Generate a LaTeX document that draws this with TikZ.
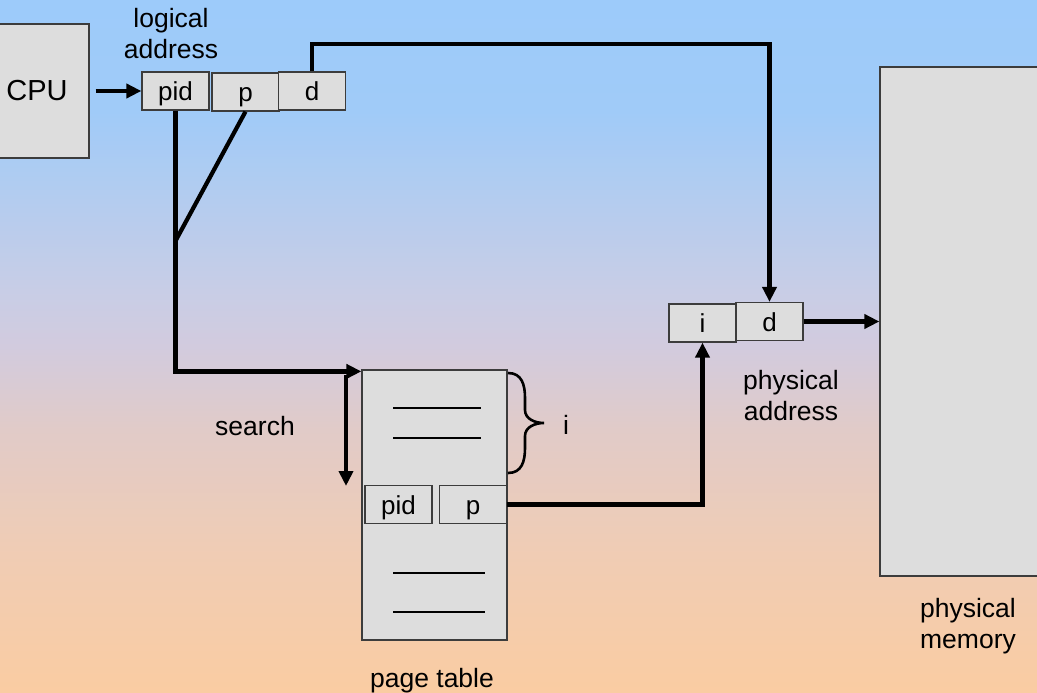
\documentclass[tikz,border=0pt]{standalone}
\usepackage{fontspec}
\setmainfont{Liberation Sans}
\usetikzlibrary{arrows.meta, positioning, calc}

\definecolor{boxfill}{RGB}{221,221,221}
\definecolor{boxline}{RGB}{60,60,60}

% Sky-to-peach backdrop
\pgfdeclareverticalshading{backdrop}{100bp}{
    color(0bp)=(rgb,255:red,250;green,204;blue,162);
    color(25bp)=(rgb,255:red,250;green,204;blue,162);
    color(35bp)=(rgb,255:red,240;green,204;blue,180);
    color(44bp)=(rgb,255:red,225;green,203;blue,200);
    color(50bp)=(rgb,255:red,210;green,203;blue,222);
    color(54bp)=(rgb,255:red,200;green,205;blue,230);
    color(67bp)=(rgb,255:red,160;green,203;blue,248);
    color(75bp)=(rgb,255:red,157;green,203;blue,250);
    color(100bp)=(rgb,255:red,157;green,203;blue,250)}

\tikzset{
    cell/.style={draw=boxline, fill=boxfill, line width=1.2pt, inner sep=0pt,
        minimum width=67pt, minimum height=38pt, text height=20pt, text depth=1pt,
        font=\fontsize{26}{31}\selectfont},
    block/.style={draw=boxline, fill=boxfill, line width=1.2pt, inner sep=0pt},
    wire/.style={line width=4.2pt},
    feed/.style={wire, -{Triangle[length=15pt, width=14pt]}},
    caption/.style={align=center, font=\fontsize{26.5}{31}\selectfont}
}

\begin{document}
\begin{tikzpicture}[x=1pt, y=-1pt]
    % Background
    \useasboundingbox (0,0) rectangle (1037,693);
    \shade[shading=backdrop] (0,0) rectangle (1037,693);

    % CPU
    \node[block, minimum width=104pt, minimum height=134pt,
        font=\fontsize{29}{34}\selectfont] (cpu) at (37,91) {CPU};

    % Logical address
    \node[cell] (lpid) at (175.5,91) {pid};
    \node[cell] (lp) at (245.5,92) {p};
    \node[cell] (ld) at (312,91) {d};
    \node[caption] (lcap) at (171,34) {logical\\address};

    % Page table
    \node[block, minimum width=145pt, minimum height=270pt] (table) at (434.5,505) {};
    \draw[line width=1.6pt] (393,408) -- (481,408);
    \draw[line width=1.6pt] (393,438) -- (481,438);
    \draw[line width=1.6pt] (393,573) -- (485,573);
    \draw[line width=1.6pt] (393,612) -- (485,612);
    \node[cell] (tpid) at (398.5,504.5) {pid};
    \node[cell] (tp) at (473,504.5) {p};
    \node[caption] (tcap) at (432,681) {page table};

    % Brace over the first i entries
    \draw[line width=2.6pt] (508,373) .. controls (522,373) and (525,385) .. (525,398)
        -- (525,410) .. controls (525,419) and (535,423) .. (544,423)
        .. controls (535,423) and (525,427) .. (525,436)
        -- (525,448) .. controls (525,461) and (522,473) .. (508,473);
    \node[font=\fontsize{26.5}{31}\selectfont] (ilabel) at (566,425) {i};

    % Search
    \coordinate (stop) at (346,375);
    \coordinate (sbot) at (346,486);
    \draw[feed] (stop) -- (sbot);
    \node[font=\fontsize{26.5}{31}\selectfont] (scap) at (255,426) {search};

    % Physical address
    \node[cell] (pi) at (702.5,323) {i};
    \node[cell] (pd) at (769.5,321.5) {d};
    \node[caption] (pcap) at (791,396) {physical\\address};

    % Physical memory
    \node[block, minimum width=170pt, minimum height=509pt] (mem) at (965,321.5) {};
    \node[caption] (mcap) at (968,626) {physical\\memory};

    % Connectors
    \draw[feed] ([xshift=6pt]cpu.east) -- (lpid.west);
    \draw[feed] (ld.north) -- ++(0,-27) -| (pd.north);
    \coordinate (fork) at (176,240);
    \draw[wire] (lp.south) -- (fork);
    \draw[feed] (lpid.south) |- ([yshift=-2pt]table.north west);
    \draw[feed] (tp.east) -| (pi.south);
    \draw[feed] (pd.east) -- (pd.east -| mem.west);
\end{tikzpicture}
\end{document}
